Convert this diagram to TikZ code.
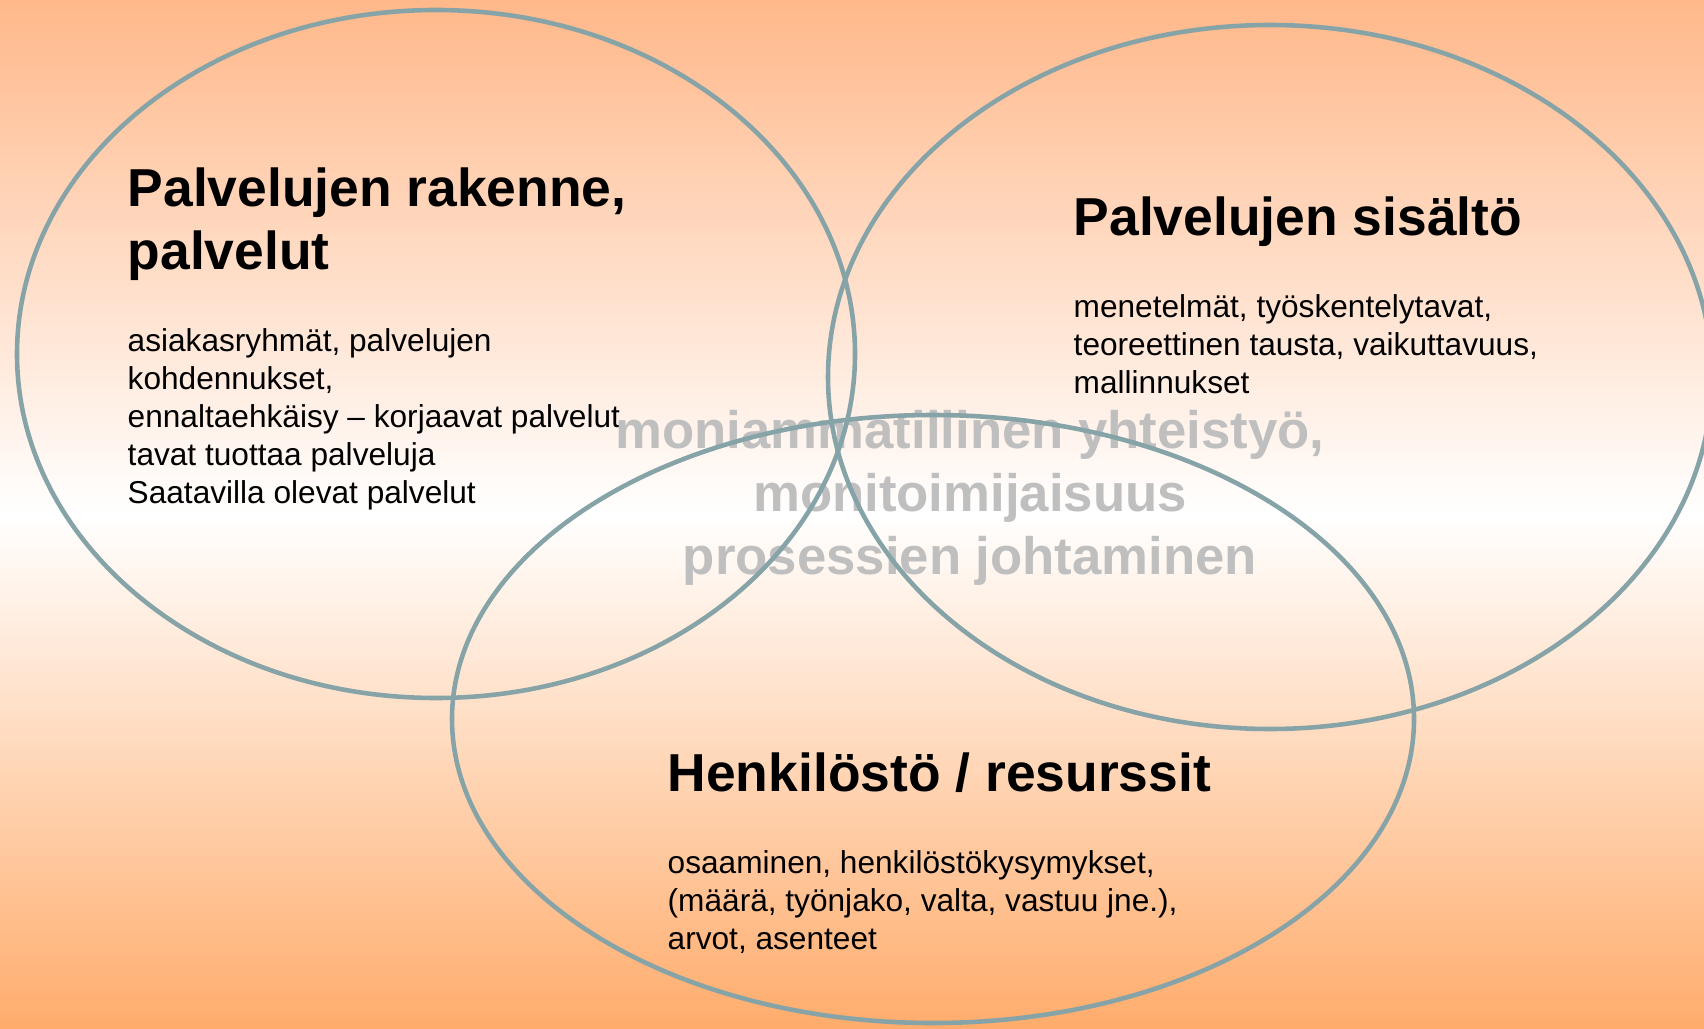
\documentclass[tikz,border=0pt]{standalone}
\usepackage{fontspec}
\setmainfont{Liberation Sans}
\usepackage{tikz}

\definecolor{ringgray}{RGB}{134,164,167}
\definecolor{coregray}{RGB}{191,191,191}
\definecolor{toporange}{RGB}{255,184,138}
\definecolor{botorange}{RGB}{255,172,108}

\begin{document}
\begin{tikzpicture}[x=1cm, y=1cm]
		\tikzstyle{ring}=[draw=ringgray, line width=1.3pt]
		\tikzstyle{heading}=[anchor=base west, align=left, inner sep=0pt, font=\bfseries\fontsize{15.2}{17.9}\selectfont]
		\tikzstyle{items}=[anchor=base west, align=left, inner sep=0pt, font=\fontsize{9}{10.8}\selectfont]
		\tikzstyle{core}=[anchor=base, align=center, inner sep=0pt, text=coregray, font=\bfseries\fontsize{15}{17.9}\selectfont]
		
		\useasboundingbox (0, 0) rectangle (17.04, -10.28);
		\shade[top color=toporange, bottom color=botorange, middle color=white] (0, 0) rectangle (17.04, -10.28);
		
		% anchors sit on the baseline of the last line
		\node[heading] at (1.27, -2.69) (R) {Palvelujen rakenne,\\palvelut};
		\node[items] at (1.27, -5.03) (Rtxt) {asiakasryhmät, palvelujen\\kohdennukset,\\ennaltaehkäisy – korjaavat palvelut\\tavat tuottaa palveluja\\Saatavilla olevat palvelut};
		
		\node[heading] at (10.73, -2.36) (S) {Palvelujen sisältö};
		\node[items] at (10.73, -3.93) (Stxt) {menetelmät, työskentelytavat,\\teoreettinen tausta, vaikuttavuus,\\mallinnukset};
		
		\node[heading] at (6.67, -7.91) (H) {Henkilöstö / resurssit};
		\node[items] at (6.67, -9.49) (Htxt) {osaaminen, henkilöstökysymykset,\\(määrä, työnjako, valta, vastuu jne.),\\arvot, asenteet};
		
		\node[core] at (9.70, -5.74) (M) {moniammatillinen yhteistyö,\\monitoimijaisuus\\prosessien johtaminen};
		
		\draw[ring] (4.36, -3.54) ellipse [x radius=4.19, y radius=3.44];
		\draw[ring] (12.70, -3.77) ellipse [x radius=4.42, y radius=3.52];
		\draw[ring] (9.33, -7.19) ellipse [x radius=4.81, y radius=3.04];
	\end{tikzpicture}
\end{document}
